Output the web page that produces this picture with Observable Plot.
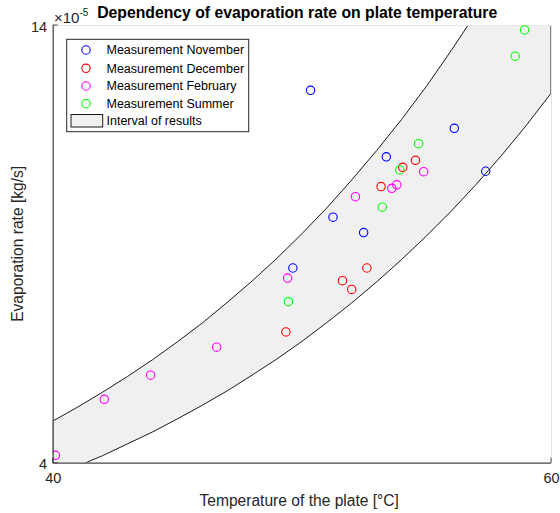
<!DOCTYPE html>
<html><head><meta charset="utf-8">
<script src="https://cdn.jsdelivr.net/npm/d3@7"></script>
<script src="https://cdn.jsdelivr.net/npm/@observablehq/plot@0.6"></script>
<style>
body{margin:0;background:#fff}
#chart svg{font-family:"Liberation Sans",Arial,sans-serif;display:block}
</style>
</head><body><div id="chart"></div>
<script>
// ---- data ----
const novT = [50.33, 56.10, 53.37, 57.36, 51.23, 52.46, 49.62];
const novV = [12.52, 11.65, 11.00, 10.67, 9.62, 9.27, 8.46];
const decT = [54.54, 54.03, 53.16, 52.59, 51.61, 51.98, 49.34];
const decV = [10.92, 10.76, 10.32, 8.46, 8.17, 7.97, 7.00];
const febT = [54.87, 53.79, 53.59, 52.13, 49.41, 46.56, 43.91, 42.05, 40.09];
const febV = [10.66, 10.36, 10.28, 10.09, 8.23, 6.65, 6.01, 5.46, 4.18];
const sumT = [58.92, 58.54, 54.66, 53.91, 53.21, 49.44];
const sumV = [13.90, 13.30, 11.30, 10.70, 9.85, 7.69];

const bandT     = [40, 41, 42, 43, 44, 45, 46, 47, 48, 49, 50, 51, 52, 53, 54, 55, 56, 57, 58, 59, 60];
const bandUpper = [4.95, 5.27, 5.61, 5.97, 6.35, 6.76, 7.19, 7.66, 8.15, 8.67, 9.23, 9.82, 10.46, 11.13, 11.84, 12.60, 13.42, 14.28, 15.19, 16.16, 17.20];
const bandLower = [3.69, 3.92, 4.16, 4.43, 4.70, 5.00, 5.31, 5.64, 6.00, 6.37, 6.77, 7.20, 7.65, 8.13, 8.64, 9.18, 9.75, 10.36, 11.01, 11.70, 12.44];

const seriesNames  = ["Measurement November", "Measurement December", "Measurement February", "Measurement Summer"];
const seriesColors = ["#0000ff", "#ff0000", "#ff00ff", "#00ff00"];
const bandName = "Interval of results";
const xTicks = [40, 60];
const yTicks = [4, 14];
const titleText = "Dependency of evaporation rate on plate temperature";
const xLabel = "Temperature of the plate [°C]";
const yLabel = "Evaporation rate [kg/s]";

// ---- build ----
const seriesT = [novT, decT, febT, sumT];
const seriesV = [novV, decV, febV, sumV];
const pts = [];
seriesT.forEach((ts, s) => ts.forEach((t, i) => pts.push({t, v: seriesV[s][i], s: seriesNames[s]})));
const band = bandT.map((t, i) => ({t, lo: bandLower[i], hi: bandUpper[i]}));

const W = 560, H = 513;
const plot = Plot.plot({
  width: W, height: H,
  marginLeft: 52.7, marginRight: 9, marginTop: 25, marginBottom: 50.3,
  x: {domain: [40, 60], axis: null},
  y: {domain: [4, 14], axis: null},
  color: {domain: seriesNames, range: seriesColors},
  style: {background: "white", fontFamily: "'Liberation Sans', Arial, sans-serif"},
  marks: [
    Plot.areaY(band, {x: "t", y1: "lo", y2: "hi", fill: "#f0f0f0", stroke: "#1a1a1a", strokeWidth: 1, clip: true}),
    Plot.frame({stroke: "#e4e4e4", strokeWidth: 1}),
    Plot.dot(pts, {x: "t", y: "v", stroke: "s", r: 4.2, strokeWidth: 1.1, clip: true}),
    Plot.ruleY([4], {stroke: "#4d4d4d", strokeWidth: 1.3}),
    Plot.ruleX([40], {stroke: "#4d4d4d", strokeWidth: 1.3}),
    Plot.text(xTicks, {x: d => d, frameAnchor: "bottom", lineAnchor: "top", dy: 9.5, fontSize: 14.5, fill: "#262626"}),
    Plot.text(yTicks, {y: d => d, frameAnchor: "left", textAnchor: "end", dx: -6, dy: 1.5, fontSize: 14.5, fill: "#262626"})
  ]
});
document.getElementById("chart").appendChild(plot);

const svg = d3.select(plot);
const sx = plot.scale("x"), sy = plot.scale("y");
const x0 = sx.apply(40), y0 = sy.apply(4), y1 = sy.apply(14);

// inward ticks
const tg = svg.append("g").attr("stroke", "#4d4d4d").attr("stroke-width", 1);
xTicks.forEach(t => tg.append("line").attr("x1", sx.apply(t)).attr("x2", sx.apply(t)).attr("y1", y0).attr("y2", y0 - 5));
yTicks.forEach(t => tg.append("line").attr("y1", sy.apply(t)).attr("y2", sy.apply(t)).attr("x1", x0).attr("x2", x0 + 5));

// title
svg.append("text").attr("x", 297.2).attr("y", 18.3).attr("text-anchor", "middle")
  .attr("font-size", 15.75).attr("font-weight", "bold").attr("fill", "#000").text(titleText);
// exponent
const ex = svg.append("text").attr("x", 54).attr("y", 22.7).attr("text-anchor", "start")
  .attr("font-size", 15).attr("fill", "#262626");
ex.append("tspan").text("×10");
ex.append("tspan").attr("font-size", 10).attr("dy", -7).text("-5");
// axis labels
svg.append("text").attr("x", 299.2).attr("y", 505.5).attr("text-anchor", "middle")
  .attr("font-size", 15.6).attr("fill", "#262626").text(xLabel);
svg.append("text").attr("transform", `translate(23,${(y0 + y1) / 2}) rotate(-90)`).attr("text-anchor", "middle")
  .attr("font-size", 15.6).attr("fill", "#262626").text(yLabel);

// legend
const lg = svg.append("g").attr("text-anchor", "start");
const lx = 66.7, ly = 39.3, lw = 182, lh = 92.4;
lg.append("rect").attr("x", lx).attr("y", ly).attr("width", lw).attr("height", lh)
  .attr("fill", "white").attr("stroke", "#262626").attr("stroke-width", 1);
const rowY = [50, 68.3, 86, 103.7, 121];
seriesNames.forEach((n, i) => {
  lg.append("circle").attr("cx", 86).attr("cy", rowY[i]).attr("r", 4.2)
    .attr("fill", "none").attr("stroke", seriesColors[i]).attr("stroke-width", 1.1);
  lg.append("text").attr("x", 106.5).attr("y", rowY[i]).attr("dy", "0.35em").attr("text-anchor", "start")
    .attr("font-size", 12.5).attr("fill", "#000").text(n);
});
lg.append("rect").attr("x", 71).attr("y", 114.5).attr("width", 31.7).attr("height", 12.5)
  .attr("fill", "#f0f0f0").attr("stroke", "#1a1a1a").attr("stroke-width", 1);
lg.append("text").attr("x", 106.5).attr("y", rowY[4]).attr("dy", "0.35em").attr("text-anchor", "start")
  .attr("font-size", 12.5).attr("fill", "#000").text(bandName);
</script>
</body></html>
